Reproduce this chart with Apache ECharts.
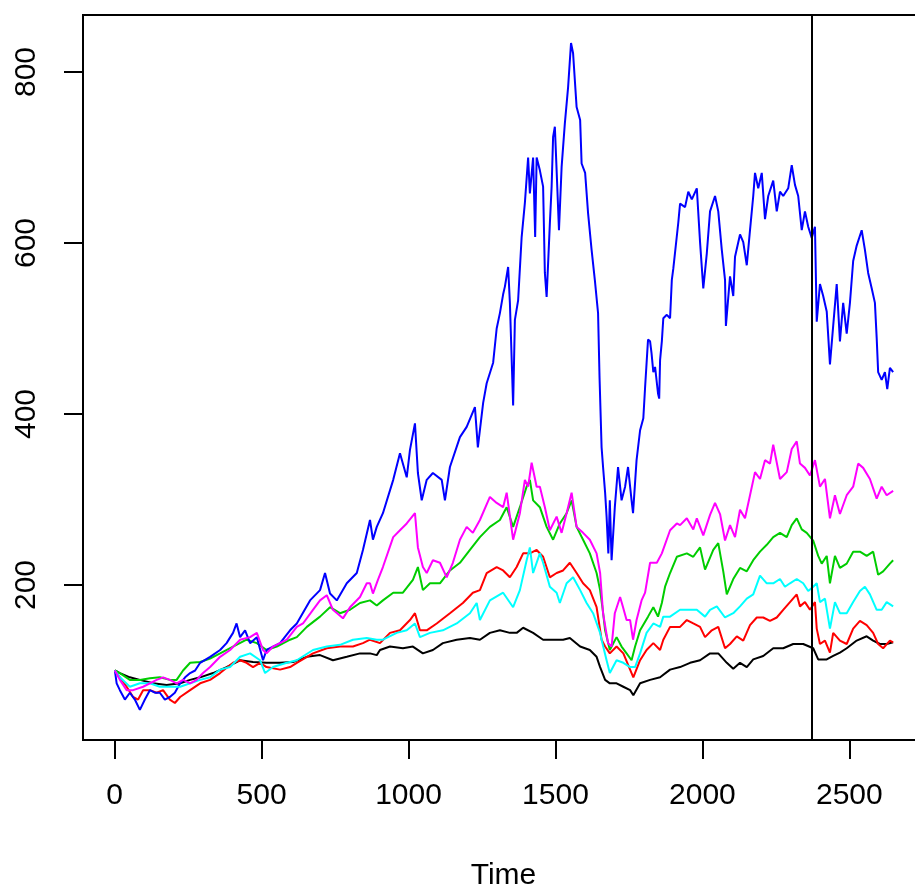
<!DOCTYPE html>
<html>
<head>
<meta charset="utf-8">
<script src="https://cdn.jsdelivr.net/npm/echarts@6/dist/echarts.min.js"></script>
<style>
  html, body { margin: 0; padding: 0; background: #fff; }
  #chart { width: 915px; height: 890px; }
</style>
</head>
<body>
<div id="chart"></div>
<script>
// ---- data (time, value) ----
const xTicks = [0, 500, 1000, 1500, 2000, 2500];
const yTicks = [200, 400, 600, 800];
const splitTime = 2371;

const seriesBlack = [[1,100],[18,97],[52,92],[86,89],[131,85],[177,83],[223,85],[257,89],[291,92],[335,97],[381,104],[427,112],[471,110],[517,109],[563,109],[607,110],[654,116],[699,118],[743,112],[790,116],[835,120],[869,120],[892,118],[903,124],[937,128],[981,126],[1015,128],[1049,120],[1083,124],[1117,132],[1164,136],[1209,138],[1243,136],[1277,144],[1311,147],[1345,144],[1368,144],[1390,150],[1424,144],[1458,136],[1492,136],[1526,136],[1549,138],[1584,128],[1617,124],[1640,116],[1652,104],[1669,89],[1685,85],[1708,85],[1731,81],[1754,77],[1765,71],[1788,85],[1822,89],[1856,92],[1890,101],[1924,104],[1958,109],[1992,112],[2026,120],[2054,120],[2083,109],[2105,102],[2128,109],[2151,104],[2173,113],[2207,117],[2241,126],[2275,126],[2309,131],[2343,131],[2377,126],[2394,113],[2423,113],[2445,117],[2468,121],[2491,126],[2525,135],[2559,140],[2581,135],[2604,131],[2627,131],[2649,133]];

const seriesRed = [[1,100],[18,92],[41,81],[63,69],[80,66],[97,77],[120,77],[143,74],[165,77],[188,66],[205,62],[223,69],[257,77],[291,85],[325,89],[359,97],[403,109],[427,112],[449,109],[471,104],[495,109],[517,104],[563,101],[597,104],[620,109],[675,120],[722,126],[767,128],[811,128],[845,132],[869,136],[903,132],[937,144],[971,147],[1005,159],[1022,167],[1039,147],[1062,147],[1096,155],[1141,167],[1185,179],[1219,191],[1243,194],[1266,214],[1300,221],[1322,217],[1345,209],[1368,221],[1390,237],[1413,237],[1436,241],[1458,233],[1481,209],[1504,214],[1526,217],[1549,226],[1572,214],[1594,202],[1617,194],[1640,174],[1657,136],[1669,128],[1685,120],[1708,128],[1731,120],[1754,101],[1765,92],[1788,112],[1810,124],[1833,132],[1856,124],[1867,136],[1890,151],[1924,151],[1947,159],[1969,155],[1992,151],[2009,139],[2032,147],[2054,151],[2077,126],[2094,131],[2117,140],[2139,135],[2162,153],[2185,162],[2207,162],[2230,158],[2253,162],[2275,171],[2298,180],[2321,189],[2332,175],[2349,180],[2366,171],[2383,180],[2389,149],[2400,131],[2417,135],[2434,121],[2445,144],[2468,135],[2491,131],[2513,149],[2536,158],[2559,153],[2581,144],[2598,131],[2615,126],[2638,135],[2649,133]];

const seriesGreen = [[1,100],[18,97],[52,89],[86,89],[120,91],[154,92],[188,89],[211,89],[233,100],[257,109],[291,110],[325,114],[359,120],[403,128],[449,136],[484,132],[517,124],[552,128],[597,136],[620,139],[654,151],[699,163],[733,174],[767,167],[801,171],[835,179],[869,182],[892,176],[913,182],[948,191],[981,191],[1015,206],[1032,221],[1049,194],[1073,202],[1107,202],[1141,217],[1175,226],[1209,241],[1243,256],[1277,268],[1311,276],[1334,291],[1356,268],[1379,291],[1402,315],[1413,323],[1424,299],[1447,291],[1470,268],[1492,253],[1515,272],[1538,284],[1555,299],[1572,268],[1594,253],[1617,237],[1640,214],[1652,194],[1662,168],[1669,147],[1685,124],[1708,139],[1725,128],[1742,120],[1759,112],[1771,128],[1788,147],[1815,163],[1833,174],[1849,163],[1862,179],[1873,198],[1890,214],[1913,233],[1947,237],[1969,233],[1992,244],[2009,218],[2037,241],[2054,249],[2071,216],[2083,189],[2105,207],[2128,220],[2151,216],[2173,229],[2196,239],[2219,247],[2241,256],[2264,261],[2287,256],[2304,270],[2321,278],[2338,265],[2355,261],[2377,252],[2394,234],[2406,225],[2423,234],[2434,202],[2451,234],[2468,220],[2491,225],[2513,239],[2536,239],[2559,234],[2581,239],[2598,212],[2615,216],[2638,225],[2649,229]];

const seriesBlue = [[1,100],[7,85],[18,77],[35,66],[52,74],[69,66],[86,54],[103,66],[120,77],[137,74],[154,74],[171,66],[188,69],[205,74],[223,85],[240,92],[257,97],[274,100],[291,109],[325,116],[359,124],[381,132],[403,144],[415,155],[427,139],[444,147],[461,132],[484,139],[505,112],[517,124],[539,128],[563,132],[597,147],[620,155],[665,182],[699,194],[716,214],[733,190],[756,182],[790,202],[824,214],[845,241],[869,276],[879,253],[892,268],[913,284],[948,323],[971,354],[994,326],[1005,358],[1022,389],[1032,331],[1045,299],[1062,323],[1083,331],[1113,323],[1124,299],[1141,338],[1175,373],[1198,385],[1226,408],[1236,361],[1254,413],[1266,436],[1288,460],[1300,500],[1311,518],[1322,540],[1328,549],[1339,572],[1345,530],[1356,410],[1362,510],[1373,533],[1385,607],[1396,647],[1407,700],[1413,658],[1424,700],[1431,607],[1436,700],[1447,685],[1458,666],[1464,565],[1470,537],[1481,623],[1487,666],[1492,724],[1498,736],[1504,685],[1512,615],[1521,689],[1532,740],[1543,782],[1553,834],[1560,822],[1572,759],[1584,744],[1589,693],[1601,682],[1611,635],[1623,592],[1634,557],[1645,518],[1650,443],[1657,361],[1662,338],[1669,308],[1674,280],[1680,237],[1685,299],[1691,229],[1702,291],[1713,338],[1725,299],[1737,315],[1747,338],[1759,299],[1764,284],[1776,346],[1788,381],[1799,395],[1805,431],[1815,487],[1822,485],[1827,471],[1833,449],[1839,455],[1845,454],[1849,424],[1853,418],[1856,463],[1862,485],[1867,512],[1879,516],[1890,512],[1896,557],[1901,570],[1918,624],[1924,646],[1941,642],[1952,660],[1964,651],[1981,664],[1992,601],[2003,547],[2015,588],[2026,637],[2043,655],[2054,637],[2066,592],[2077,557],[2080,503],[2094,561],[2105,538],[2111,584],[2128,610],[2139,601],[2151,574],[2162,615],[2173,655],[2179,682],[2190,664],[2202,682],[2213,628],[2224,655],[2241,673],[2253,637],[2264,660],[2275,655],[2292,664],[2304,691],[2315,668],[2326,655],[2338,615],[2349,637],[2360,619],[2372,606],[2383,619],[2389,508],[2400,552],[2411,538],[2423,520],[2434,458],[2445,503],[2457,552],[2468,485],[2479,530],[2491,494],[2502,530],[2513,579],[2525,597],[2542,615],[2553,592],[2564,565],[2576,547],[2587,530],[2593,489],[2598,449],[2610,440],[2621,449],[2629,429],[2638,454],[2649,449]];

const seriesCyan = [[1,100],[18,92],[52,81],[86,85],[120,85],[154,81],[188,81],[223,81],[257,85],[291,89],[325,92],[359,101],[393,104],[427,116],[461,120],[495,112],[512,97],[539,104],[586,109],[620,112],[675,124],[722,128],[767,130],[811,136],[858,138],[892,136],[913,136],[960,144],[994,147],[1022,155],[1039,139],[1073,144],[1117,147],[1164,155],[1209,167],[1232,179],[1243,159],[1277,182],[1322,191],[1356,174],[1379,194],[1402,229],[1413,244],[1424,214],[1447,237],[1458,226],[1481,198],[1504,191],[1515,179],[1538,202],[1560,209],[1584,194],[1606,179],[1628,167],[1652,144],[1657,136],[1674,112],[1685,97],[1708,112],[1731,109],[1754,104],[1771,104],[1788,120],[1810,144],[1833,155],[1856,151],[1867,163],[1890,163],[1924,171],[1947,171],[1981,171],[2009,163],[2026,171],[2049,175],[2077,162],[2105,167],[2128,175],[2151,184],[2173,189],[2196,211],[2219,202],[2241,202],[2264,207],[2281,198],[2298,202],[2321,207],[2343,202],[2360,193],[2377,198],[2389,202],[2400,180],[2417,184],[2434,149],[2451,180],[2468,167],[2491,167],[2513,180],[2536,193],[2553,198],[2570,189],[2593,171],[2610,171],[2627,180],[2649,175]];

const seriesMagenta = [[1,100],[18,89],[41,77],[63,77],[97,81],[120,85],[143,89],[165,92],[188,89],[211,85],[233,89],[257,85],[279,89],[301,97],[325,104],[359,116],[393,124],[427,136],[461,139],[484,144],[505,124],[517,120],[539,128],[586,136],[620,151],[641,155],[675,171],[699,182],[722,188],[743,171],[777,161],[801,174],[835,186],[858,202],[869,202],[879,190],[896,206],[913,221],[948,256],[971,264],[994,272],[1022,284],[1032,244],[1049,221],[1062,214],[1083,229],[1107,226],[1130,209],[1151,226],[1175,253],[1198,268],[1219,261],[1243,276],[1277,303],[1300,296],[1322,291],[1334,308],[1356,253],[1379,284],[1396,323],[1407,315],[1419,343],[1436,315],[1447,315],[1464,291],[1481,264],[1504,280],[1521,261],[1538,284],[1555,308],[1572,268],[1594,261],[1617,253],[1640,237],[1652,214],[1662,167],[1679,132],[1691,128],[1702,167],[1720,186],[1730,174],[1742,159],[1754,159],[1764,136],[1776,159],[1793,182],[1805,191],[1822,226],[1845,226],[1862,237],[1890,264],[1913,272],[1924,270],[1947,278],[1969,265],[1981,278],[2003,258],[2026,282],[2043,296],[2060,283],[2077,252],[2094,270],[2111,256],[2128,288],[2145,278],[2162,305],[2179,332],[2196,324],[2213,346],[2230,342],[2241,364],[2264,324],[2287,332],[2304,359],[2321,368],[2332,342],[2349,337],[2366,328],[2383,346],[2400,315],[2417,324],[2434,278],[2451,305],[2468,283],[2491,305],[2513,315],[2530,342],[2547,337],[2570,324],[2593,301],[2610,315],[2627,305],[2649,310]];

const seriesList = [
  { name: 'black', data: seriesBlack, color: '#000000' },
  { name: 'red', data: seriesRed, color: '#FF0000' },
  { name: 'green', data: seriesGreen, color: '#00CD00' },
  { name: 'blue', data: seriesBlue, color: '#0000FF' },
  { name: 'cyan', data: seriesCyan, color: '#00FFFF' },
  { name: 'magenta', data: seriesMagenta, color: '#FF00FF' }
];

// ---- chart ----
const chart = echarts.init(document.getElementById('chart'), null, { renderer: 'canvas' });
const font = 'Liberation Sans, Arial, sans-serif';

const series = seriesList.map(s => ({
  name: s.name,
  type: 'line',
  data: s.data,
  showSymbol: false,
  symbol: 'none',
  smooth: false,
  lineStyle: { color: s.color, width: 2 },
  itemStyle: { color: s.color },
  animation: false,
  silent: true
}));
series.push({
  type: 'line',
  data: [],
  silent: true,
  animation: false,
  markLine: {
    silent: true,
    symbol: ['none', 'none'],
    label: { show: false },
    lineStyle: { color: '#000', width: 2, type: 'solid' },
    data: [{ xAxis: splitTime }]
  }
});

chart.setOption({
  backgroundColor: '#ffffff',
  animation: false,
  grid: {
    left: 83, top: 15, width: 841, height: 725,
    containLabel: false,
    outerBoundsMode: 'none',
    show: true, borderColor: '#000', borderWidth: 2, backgroundColor: 'transparent'
  },
  xAxis: {
    type: 'value',
    min: -107.5,
    max: 2754,
    name: 'Time',
    nameLocation: 'middle',
    nameGap: 121,
    nameTextStyle: { fontFamily: font, fontSize: 30, color: '#000' },
    axisLine: { show: false, onZero: false },
    splitLine: { show: false },
    axisTick: { show: true, length: 19, lineStyle: { color: '#000', width: 2 }, customValues: xTicks },
    axisLabel: { fontFamily: font, fontSize: 30, color: '#000', margin: 41, customValues: xTicks, formatter: v => String(v) }
  },
  yAxis: {
    type: 'value',
    min: 18.7,
    max: 866.7,
    axisLine: { show: false, onZero: false },
    splitLine: { show: false },
    axisTick: { show: true, length: 19, lineStyle: { color: '#000', width: 2 }, customValues: yTicks },
    axisLabel: { fontFamily: font, fontSize: 30, color: '#000', margin: 41, rotate: 90, customValues: yTicks, formatter: v => String(v) }
  },
  series: series
});
</script>
</body>
</html>
